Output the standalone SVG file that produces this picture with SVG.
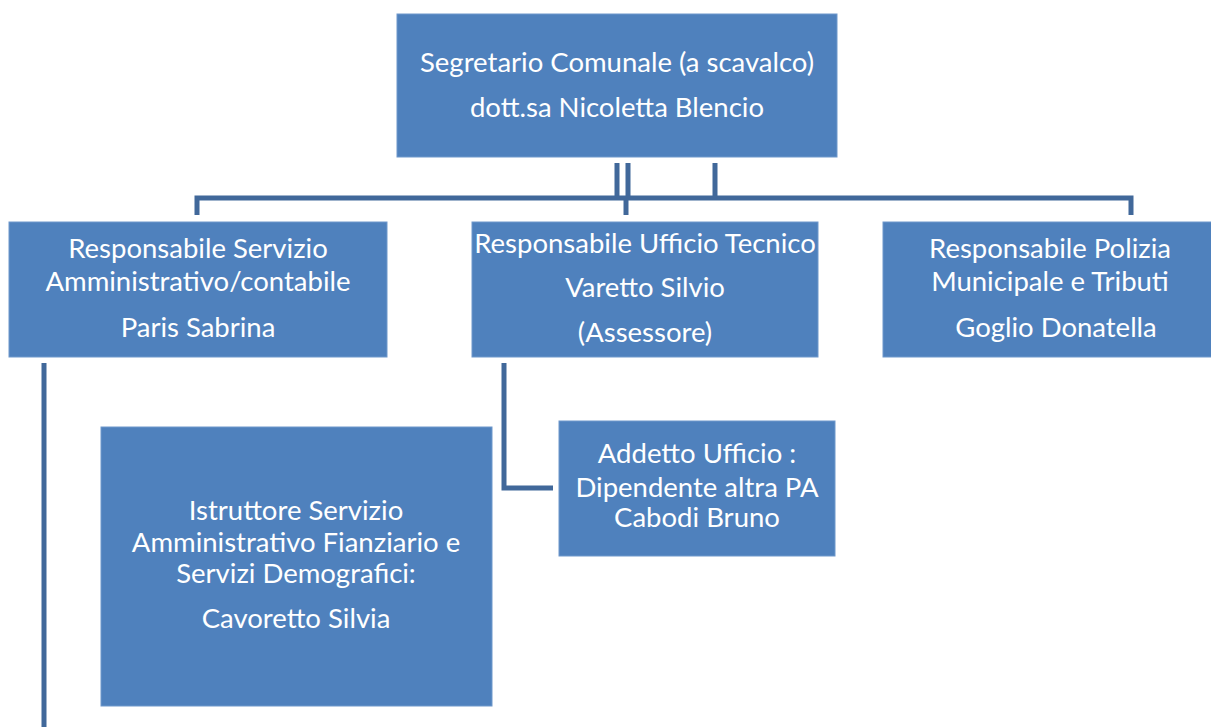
<svg xmlns="http://www.w3.org/2000/svg" width="1211" height="727" viewBox="0 0 1211 727">
<style>
.box{fill:#4f81bd;stroke:#6f98cb;stroke-width:1}
.t{font-family:Lato,"Open Sans","Liberation Sans",sans-serif;font-size:27.5px;fill:#ffffff;text-anchor:middle}
.c{fill:none;stroke:#41689a;stroke-width:5}
</style>
<rect width="1211" height="727" fill="#ffffff"/>
<g id="connectors">
<path class="c" d="M617,163 V198 M628,163 V198 M715,163 V198"/>
<path class="c" d="M197,215 V198 H1131 V215"/>
<path class="c" d="M626,198 V215"/>
<path class="c" d="M44,363 V727"/>
<path class="c" d="M504,363 V488 H553"/>
</g>
<g id="segretario">
<rect class="box" x="397" y="14" width="440" height="143"/>
<text class="t" x="617" y="72">Segretario Comunale (a scavalco)</text>
<text class="t" x="617" y="117">dott.sa Nicoletta Blencio</text>
</g>
<g id="amministrativo">
<rect class="box" x="9" y="222" width="378" height="135"/>
<text class="t" x="198" y="258">Responsabile Servizio</text>
<text class="t" x="198" y="291">Amministrativo/contabile</text>
<text class="t" x="198" y="337">Paris Sabrina</text>
</g>
<g id="tecnico">
<rect class="box" x="472" y="222" width="346" height="135"/>
<text class="t" x="645" y="253">Responsabile Ufficio Tecnico</text>
<text class="t" x="645" y="297">Varetto Silvio</text>
<text class="t" x="645" y="342">(Assessore)</text>
</g>
<g id="polizia">
<rect class="box" x="883" y="222" width="330" height="135"/>
<text class="t" x="1050" y="258">Responsabile Polizia</text>
<text class="t" x="1050" y="291">Municipale e Tributi</text>
<text class="t" x="1056" y="337">Goglio Donatella</text>
</g>
<g id="addetto">
<rect class="box" x="559" y="421" width="276" height="135"/>
<text class="t" x="697" y="463">Addetto Ufficio :</text>
<text class="t" x="697" y="497">Dipendente altra PA</text>
<text class="t" x="697" y="527">Cabodi Bruno</text>
</g>
<g id="istruttore">
<rect class="box" x="101" y="427" width="391" height="279"/>
<text class="t" x="296" y="520">Istruttore Servizio</text>
<text class="t" x="296" y="552">Amministrativo Fianziario e</text>
<text class="t" x="296" y="583">Servizi Demografici:</text>
<text class="t" x="296" y="628">Cavoretto Silvia</text>
</g>
</svg>
